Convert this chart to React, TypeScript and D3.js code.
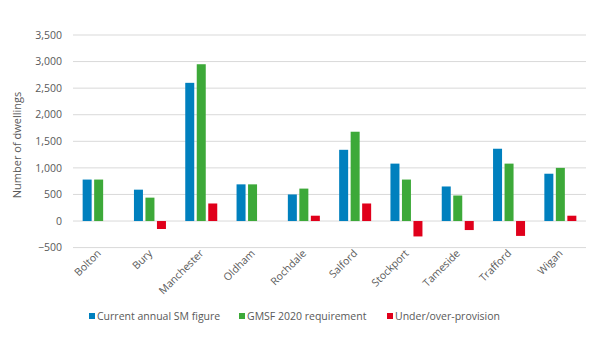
import React from "react";
import * as d3 from "d3";

const categories = ["Bolton","Bury","Manchester","Oldham","Rochdale","Salford","Stockport","Tameside","Trafford","Wigan"];
const currentSM = [780, 590, 2600, 690, 500, 1340, 1080, 650, 1360, 890];
const gmsf2020 = [780, 440, 2950, 690, 610, 1680, 780, 480, 1080, 1000];
const underOver = [0, -150, 330, 0, 100, 330, -290, -170, -280, 100];
const seriesNames = ["Current annual SM figure", "GMSF 2020 requirement", "Under/over-provision"];
const yTicks = [-500, 0, 500, 1000, 1500, 2000, 2500, 3000, 3500];

const colors = ["#0080BE", "#3DA939", "#E0001B"];
const W = 600, H = 338;
const left = 73, right = 586, top = 35, bottom = 247.6;
const font = "'Open Sans', sans-serif";

export default function App() {
  const x = d3.scaleBand<string>().domain(categories).range([left, right]).paddingInner(0).paddingOuter(0);
  const y = d3.scaleLinear().domain([-500, 3500]).range([bottom, top]);
  const series = [currentSM, gmsf2020, underOver];
  const barW = 9, gap = 2.5;
  const groupW = 3 * barW + 2 * gap;
  const fmt = d3.format(",");
  return (
    <svg width={W} height={H} style={{ position: "absolute", left: 0, top: 0, background: "#fff" }} fontFamily={font}>
      {yTicks.map((t) => (
        <g key={t}>
          <line x1={left} x2={right} y1={y(t)} y2={y(t)} stroke="#d9d9d9" strokeWidth={1} />
          <text x={62} y={y(t)} dy="0.35em" textAnchor="end" fontSize={10.5} fill="#595959">{fmt(t)}</text>
        </g>
      ))}
      {series.map((vals, si) =>
        vals.map((v, i) => {
          if (v === 0) return null;
          const cx = x(categories[i])! + x.bandwidth() / 2;
          const bx = cx - groupW / 2 + si * (barW + gap);
          return (
            <rect key={si + "-" + i} x={bx} width={barW} y={Math.min(y(v), y(0))} height={Math.abs(y(v) - y(0))} fill={colors[si]} />
          );
        })
      )}
      {categories.map((c) => {
        const cx = x(c)! + x.bandwidth() / 2 + 3;
        return (
          <text key={c} transform={`translate(${cx},${254}) rotate(-45)`} textAnchor="end" fontSize={10.5} fill="#595959">{c}</text>
        );
      })}
      <text transform={`translate(21,145) rotate(-90)`} textAnchor="middle" fontSize={11} fill="#595959">Number of dwellings</text>
      {seriesNames.map((n, i) => {
        const lx = [89, 239, 387][i];
        return (
          <g key={n}>
            <rect x={lx} y={313} width={6} height={6} fill={colors[i]} />
            <text x={lx + 8} y={316} dy="0.35em" fontSize={10.5} fill="#595959">{n}</text>
          </g>
        );
      })}
    </svg>
  );
}
